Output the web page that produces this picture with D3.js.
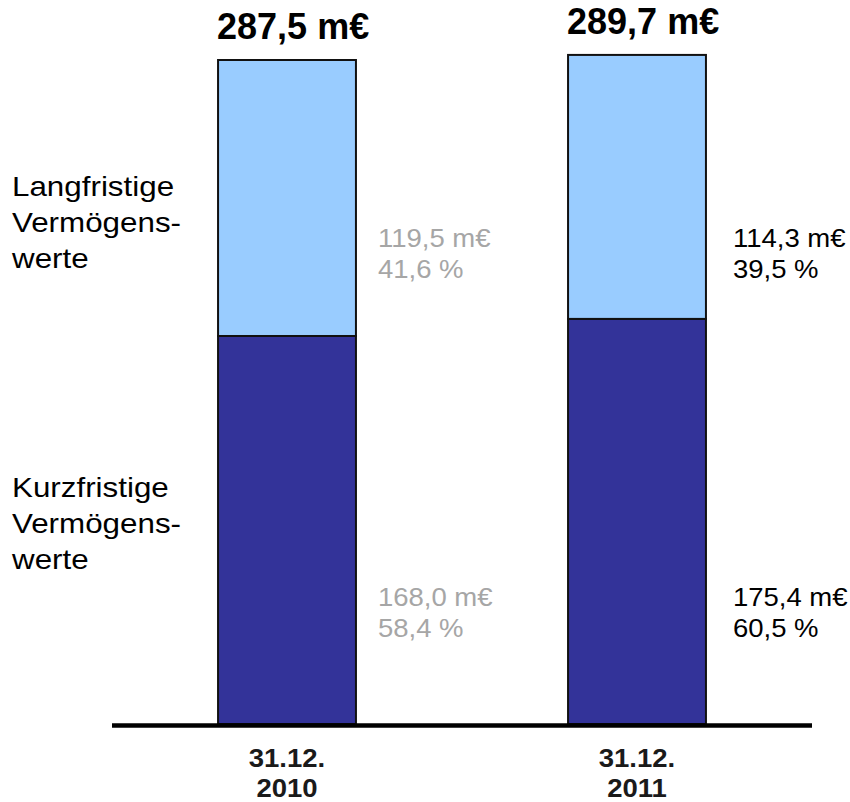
<!DOCTYPE html>
<html>
<head>
<meta charset="utf-8">
<script src="https://cdn.jsdelivr.net/npm/d3@7"></script>
<style>
  html, body { margin: 0; padding: 0; background: #fff; }
  text { font-family: "Liberation Sans", Arial, sans-serif; }
</style>
</head>
<body>
<svg id="chart" width="850" height="802"></svg>
<script>
// ---- data ----
const categories = ["31.12.2010", "31.12.2011"];
const dateLines = [["31.12.", "2010"], ["31.12.", "2011"]];
const shortTerm = [168.0, 175.4];     // Kurzfristige Vermögenswerte (m€)
const longTerm = [119.5, 114.3];      // Langfristige Vermögenswerte (m€)
const totals = [287.5, 289.7];
const shortPct = [58.4, 60.5];
const longPct = [41.6, 39.5];
const rowLabels = [["Langfristige", "Vermögens-", "werte"], ["Kurzfristige", "Vermögens-", "werte"]];

// ---- setup ----
const svg = d3.select("#chart");
const loc = d3.formatLocale({decimal: ",", thousands: ".", grouping: [3], currency: ["", " €"]});
const f1 = loc.format(".1f");

const x = d3.scaleBand().domain(categories).range([112, 812]).paddingInner(0.606).paddingOuter(0.303);
const y = d3.scaleLinear().domain([0, 300]).range([724, 724 - 300 * (664 / 287.5)]);

const rows = categories.map((c, i) => ({
  cat: c, short: shortTerm[i], long: longTerm[i], total: totals[i],
  sp: shortPct[i], lp: longPct[i], date: dateLines[i]
}));
const stack = d3.stack().keys(["short", "long"])(rows);
const colors = {short: "#333399", long: "#99ccff"};

// multi-line stretched text helper
function stretchedText(px, py, lines, lineH, size, sx, opts) {
  const t = svg.append("text")
    .attr("transform", `translate(${px},${py}) scale(${sx},1)`)
    .attr("font-size", size)
    .attr("fill", opts.fill || "#000")
    .attr("font-weight", opts.weight || "normal")
    .attr("text-anchor", opts.anchor || "start");
  lines.forEach((s, j) => {
    t.append("tspan").attr("x", 0).attr("y", j * lineH).text(s);
  });
  return t;
}

// bars
stack.forEach(layer => {
  svg.append("g").selectAll("rect").data(layer).join("rect")
    .attr("x", d => x(d.data.cat))
    .attr("width", x.bandwidth())
    .attr("y", d => y(d[1]))
    .attr("height", d => y(d[0]) - y(d[1]))
    .attr("fill", colors[layer.key])
    .attr("stroke", "#111")
    .attr("stroke-width", 2);
});

// baseline axis
svg.append("line")
  .attr("x1", x.range()[0]).attr("x2", x.range()[1])
  .attr("y1", y(0) + 1.5).attr("y2", y(0) + 1.5)
  .attr("stroke", "#000").attr("stroke-width", 4.5);

// totals (titles)
svg.append("g").selectAll("text").data(rows).join("text")
  .attr("x", d => x(d.cat) - 1)
  .attr("y", d => y(d.total) - 21)
  .attr("font-size", 36).attr("font-weight", "bold").attr("fill", "#000")
  .text(d => f1(d.total) + " m€");

// date labels
rows.forEach(d => {
  stretchedText(x(d.cat) + x.bandwidth() / 2, 767, d.date, 30, 25, 1.1,
    {anchor: "middle", weight: "bold", fill: "#1a1a1a"});
});

// value labels
const valColors = ["#a6a6a6", "#000"];
const valGap = [22, 27];
rows.forEach((d, i) => {
  const lx = x(d.cat) + x.bandwidth() + valGap[i];
  stretchedText(lx, 247, [f1(d.long) + " m€", f1(d.lp) + " %"], 31, 25, 1.1, {fill: valColors[i]});
  stretchedText(lx, 606, [f1(d.short) + " m€", f1(d.sp) + " %"], 31, 25, 1.1, {fill: valColors[i]});
});

// row labels
rowLabels.forEach((lines, k) => {
  stretchedText(12, k === 0 ? 196 : 497, lines, 36, 28, 1.12, {fill: "#000"});
});
</script>
</body>
</html>
